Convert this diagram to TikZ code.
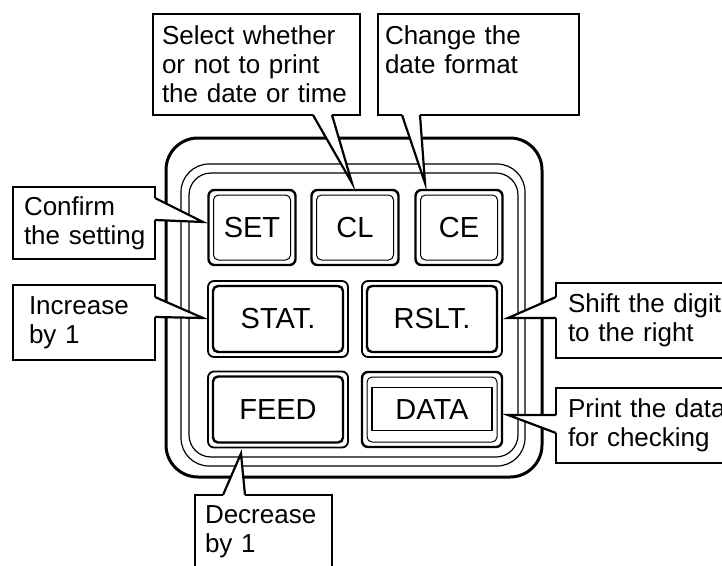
\documentclass[tikz,border=0pt]{standalone}
\usepackage{fontspec}
\setmainfont{Liberation Sans}
\usetikzlibrary{calc}

\newcommand\callptr[3]{%
  \draw[white, line width=3.2pt] (#1) -- (#2);
  \fill[white] (#1) -- (#3) -- (#2) -- cycle;
  \draw[ptr] (#1) -- (#3) -- (#2);}

\tikzset{
  note/.style={draw, fill=white, line width=2.5pt, outer sep=0pt, anchor=north west,
    align=left, inner ysep=0pt, font=\fontsize{26}{29}\selectfont},
  ptr/.style={line width=2.2pt, line join=miter},
  key/.style={draw, rounded corners=6pt, outer sep=0pt, inner sep=0pt,
    font=\fontsize{29}{32}\selectfont},
  keyA/.style={key, line width=2.4pt, minimum width=87pt, minimum height=75pt},
  keyB/.style={key, line width=1.8pt, minimum width=140pt, minimum height=76pt},
  rim/.style={rounded corners=5pt},
}

\begin{document}
\begin{tikzpicture}[x=1pt, y=-1pt]

\useasboundingbox (0,0) rectangle (722,565);
\clip (0,0) rectangle (722,565);

% panel
\draw[line width=3pt, rounded corners=32pt] (166,138) rectangle (542,477);
\draw[line width=1.2pt, rounded corners=28pt] (181,164) rectangle (525,466);
\draw[line width=1.2pt, rounded corners=22pt] (189,173) rectangle (518,457);

% keys
\node[keyA] (set) at (252,227.5) {SET};
\node[keyA] (cl) at (355,227.5) {CL};
\node[keyA] (ce) at (459,227.5) {CE};
\node[keyB] (stat) at (278,319) {STAT.};
\node[keyB] (rslt) at (432,319) {RSLT.};
\node[keyB] (feed) at (278,409.5) {FEED};
\node[keyA, minimum width=140pt] (data) at (432,409.5) {DATA};

\foreach \k in {set,cl,ce,data}
  \draw[rim, line width=1pt] ($(\k.south west)+(5,-5)$) rectangle ($(\k.north east)+(-5,5)$);
\foreach \k in {stat,rslt,feed}
  \draw[rim, line width=2.4pt] ($(\k.south west)+(5,-5)$) rectangle ($(\k.north east)+(-5,5)$);
\draw[line width=1.5pt] ($(data.center)+(-60,-22)$) rectangle ($(data.center)+(60,21)$);

% callouts
\node[note, inner xsep=9pt, text width=189pt, minimum height=101pt] (sel) at (153,14)
  {Select whether\\or not to print\\the date or time};
\node[note, inner xsep=7pt, text width=187pt, minimum height=101pt] (chg) at (378,14)
  {Change the\\date format\\\mbox{}};
\node[note, inner xsep=11pt, text width=120pt, minimum height=72pt] (cnf) at (13,187)
  {Confirm\\\mbox{the setting}};
\node[note, inner xsep=16pt, text width=110pt, minimum height=75pt] (inc) at (13,285)
  {Increase\\by 1};
\node[note, inner xsep=12pt, text width=176pt, minimum height=75pt] (sft) at (556,283)
  {Shift the digit\\to the right};
\node[note, inner xsep=12pt, text width=176pt, minimum height=75pt] (prn) at (556,388)
  {Print the data\\for checking};
\node[note, inner xsep=10pt, text width=117pt, minimum height=74pt] (dec) at (195,495)
  {Decrease\\by 1};

% pointer tips
\coordinate (selTip) at ($(cl.north)+(-3,-7)$);
\coordinate (chgTip) at ($(ce.north)+(-34,-7)$);
\coordinate (cnfTip) at ($(set.west)+(-5.5,-5.5)$);
\coordinate (incTip) at ($(stat.west)+(-5,-1)$);
\coordinate (sftTip) at ($(rslt.east)+(6,-1)$);
\coordinate (prnTip) at ($(data.east)+(6,5.5)$);
\coordinate (decTip) at ($(feed.south)+(-37,6)$);

\callptr{$(sel.south west)+(160,0)$}{$(sel.south west)+(179,0)$}{selTip}
\callptr{$(chg.south west)+(24,0)$}{$(chg.south west)+(42,0)$}{chgTip}
\callptr{$(cnf.north east)+(0,11)$}{$(cnf.north east)+(0,33)$}{cnfTip}
\callptr{$(inc.north east)+(0,12)$}{$(inc.north east)+(0,32)$}{incTip}
\callptr{$(sft.north west)+(0,14)$}{$(sft.north west)+(0,35)$}{sftTip}
\callptr{$(prn.north west)+(0,27)$}{$(prn.north west)+(0,45)$}{prnTip}
\callptr{$(dec.north west)+(28,0)$}{$(dec.north west)+(50,0)$}{decTip}

\end{tikzpicture}
\end{document}
